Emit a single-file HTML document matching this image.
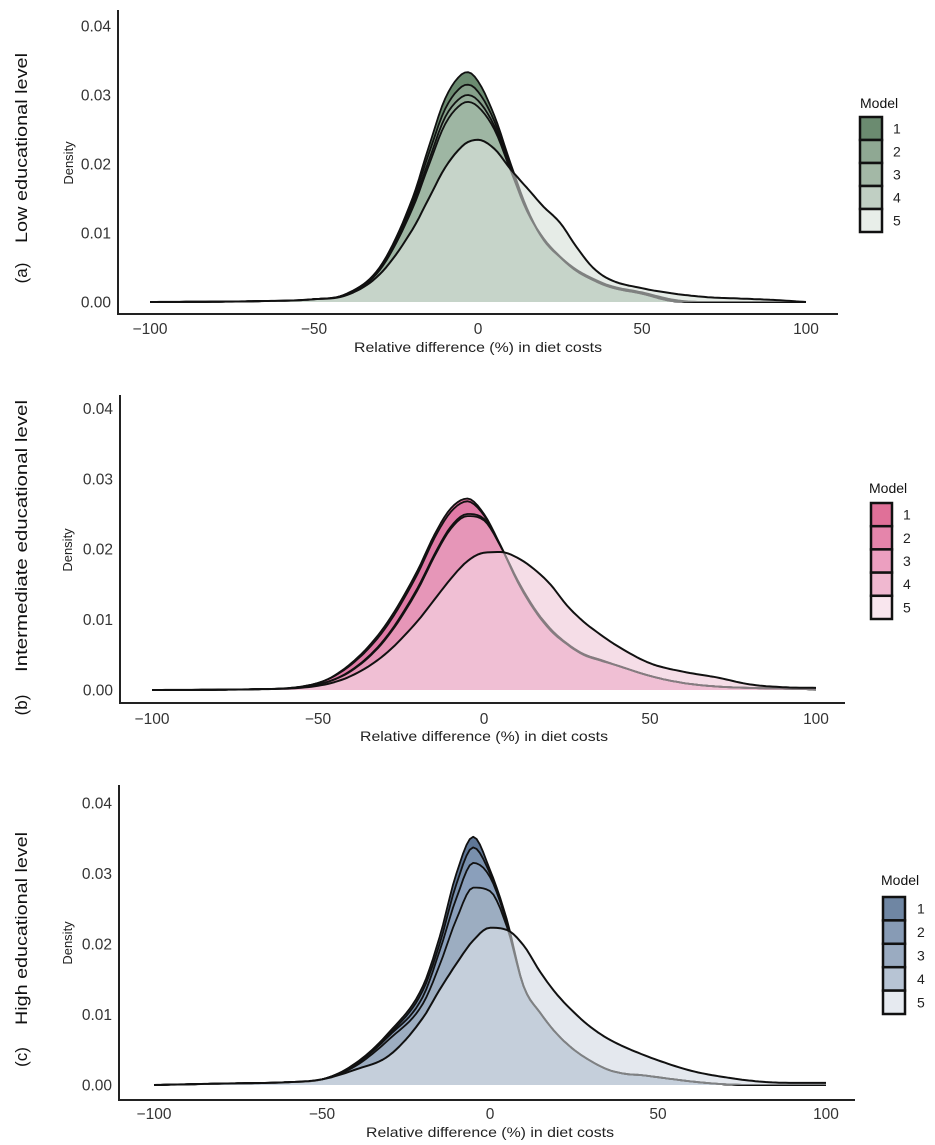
<!DOCTYPE html>
<html><head><meta charset="utf-8">
<style>
html,body{margin:0;padding:0;background:#fff;}
svg{display:block;font-family:"Liberation Sans",Arial,sans-serif;}
</style></head>
<body>
<svg id="chart" width="935" height="1145" viewBox="0 0 935 1145" xmlns="http://www.w3.org/2000/svg"></svg>
<script>
// ---------- data ----------
const xTicks = [-100, -50, 0, 50, 100];
const yTicks = [0, 0.01, 0.02, 0.03, 0.04];
const yTickLabels = ["0.00", "0.01", "0.02", "0.03", "0.04"];
const models = ["1", "2", "3", "4", "5"];

const gridA = [-100,-70,-50,-40,-30,-20,-15,-10,-5,-3,0,5,10,15,20,25,30,35,40,50,60,70,80,90,100];
const lowM1 = [0,0.0001,0.0004,0.0012,0.0050,0.0150,0.0225,0.0295,0.0330,0.0333,0.0320,0.0270,0.0200,0.0135,0.0090,0.0065,0.0045,0.0032,0.0022,0.0012,0.0001,0,0,0,0];
const lowM2 = [0,0.0001,0.0004,0.0012,0.0050,0.0145,0.0215,0.0280,0.0312,0.0315,0.0305,0.0262,0.0195,0.0133,0.0090,0.0065,0.0045,0.0032,0.0022,0.0012,0.0001,0,0,0,0];
const lowM3 = [0,0.0001,0.0004,0.0011,0.0048,0.0140,0.0205,0.0268,0.0297,0.0300,0.0292,0.0255,0.0192,0.0132,0.0092,0.0066,0.0046,0.0033,0.0023,0.0013,0.0002,0,0,0,0];
const lowM4 = [0,0.0001,0.0004,0.0011,0.0046,0.0135,0.0198,0.0258,0.0287,0.0290,0.0283,0.0250,0.0190,0.0131,0.0092,0.0066,0.0047,0.0034,0.0024,0.0014,0.0003,0,0,0,0];
const lowM5 = [0,0.0001,0.0004,0.0010,0.0040,0.0105,0.0150,0.0195,0.0225,0.0232,0.0235,0.0222,0.0192,0.0165,0.0138,0.0115,0.0080,0.0050,0.0033,0.0020,0.0012,0.0007,0.0005,0.0003,0];

const gridB = [-100,-70,-50,-40,-30,-20,-15,-10,-5,0,5,10,15,20,25,30,35,40,50,60,70,80,90,100];
const midM1 = [0,0.0001,0.0010,0.0038,0.0090,0.0170,0.0220,0.0258,0.0272,0.0250,0.0205,0.0155,0.0115,0.0085,0.0065,0.0050,0.0042,0.0035,0.0020,0.0010,0.0005,0.0003,0.0002,0.0001];
const midM2 = [0,0.0001,0.0010,0.0036,0.0086,0.0165,0.0215,0.0253,0.0268,0.0248,0.0205,0.0155,0.0115,0.0085,0.0065,0.0050,0.0042,0.0035,0.0020,0.0010,0.0005,0.0003,0.0002,0.0001];
const midM3 = [0,0.0001,0.0008,0.0028,0.0072,0.0145,0.0192,0.0232,0.0250,0.0243,0.0205,0.0157,0.0117,0.0087,0.0066,0.0051,0.0043,0.0035,0.0020,0.0010,0.0005,0.0003,0.0002,0.0001];
const midM4 = [0,0.0001,0.0008,0.0027,0.0070,0.0142,0.0189,0.0229,0.0247,0.0241,0.0204,0.0157,0.0117,0.0087,0.0066,0.0051,0.0043,0.0035,0.0020,0.0010,0.0005,0.0003,0.0002,0.0001];
const midM5 = [0,0.0001,0.0006,0.0020,0.0050,0.0098,0.0128,0.0158,0.0183,0.0195,0.0196,0.0188,0.0172,0.0150,0.0120,0.0097,0.0079,0.0063,0.0038,0.0026,0.0018,0.0008,0.0004,0.0003];

const gridC = [-100,-80,-60,-50,-40,-30,-20,-15,-10,-5,0,5,10,15,20,25,30,35,40,45,50,60,70,80,90,100];
const highM1 = [0,0.0002,0.0004,0.0008,0.0031,0.0075,0.0140,0.0210,0.0300,0.0352,0.0305,0.0235,0.0140,0.0102,0.0072,0.0050,0.0034,0.0022,0.0016,0.0014,0.0011,0.0005,0.0001,0,0,0];
const highM2 = [0,0.0002,0.0004,0.0008,0.0030,0.0072,0.0134,0.0200,0.0285,0.0337,0.0300,0.0232,0.0140,0.0102,0.0072,0.0050,0.0034,0.0022,0.0016,0.0014,0.0011,0.0005,0.0001,0,0,0];
const highM3 = [0,0.0002,0.0004,0.0008,0.0029,0.0070,0.0125,0.0190,0.0265,0.0315,0.0295,0.0230,0.0140,0.0102,0.0072,0.0050,0.0034,0.0022,0.0016,0.0014,0.0011,0.0005,0.0001,0,0,0];
const highM4 = [0,0.0002,0.0004,0.0008,0.0027,0.0065,0.0115,0.0170,0.0235,0.0280,0.0275,0.0225,0.0140,0.0102,0.0072,0.0050,0.0034,0.0022,0.0016,0.0014,0.0011,0.0005,0.0001,0,0,0];
const highM5 = [0,0.0002,0.0004,0.0008,0.0022,0.0042,0.0095,0.0135,0.0172,0.0205,0.0223,0.0220,0.0198,0.0160,0.0128,0.0103,0.0082,0.0066,0.0054,0.0044,0.0035,0.0020,0.0011,0.0005,0.0003,0.0003];

// ---------- rendering ----------
const NS = "http://www.w3.org/2000/svg";
const svg = document.getElementById("chart");
function el(tag, attrs, parent) {
  const e = document.createElementNS(NS, tag);
  for (const k in attrs) e.setAttribute(k, attrs[k]);
  (parent || svg).appendChild(e);
  return e;
}
function monotone(xs, ys) {
  const n = xs.length, d = [], m = [];
  for (let i = 0; i < n - 1; i++) d.push((ys[i+1]-ys[i])/(xs[i+1]-xs[i]));
  m[0] = d[0]; m[n-1] = d[n-2];
  for (let i = 1; i < n - 1; i++) m[i] = (d[i-1]*d[i] <= 0) ? 0 : (d[i-1]+d[i])/2;
  for (let i = 0; i < n - 1; i++) {
    if (d[i] === 0) { m[i] = 0; m[i+1] = 0; continue; }
    const a = m[i]/d[i], b = m[i+1]/d[i], s = a*a+b*b;
    if (s > 9) { const t = 3/Math.sqrt(s); m[i] = t*a*d[i]; m[i+1] = t*b*d[i]; }
  }
  return function(x) {
    let i = 0; while (i < n - 2 && x > xs[i+1]) i++;
    const h = xs[i+1]-xs[i], t = (x-xs[i])/h;
    const h00 = 2*t*t*t-3*t*t+1, h10 = t*t*t-2*t*t+t, h01 = -2*t*t*t+3*t*t, h11 = t*t*t-t*t;
    return Math.max(0, h00*ys[i]+h10*h*m[i]+h01*ys[i+1]+h11*h*m[i+1]);
  };
}

const panels = [
  { key:"low", grid:gridA, series:[lowM1,lowM2,lowM3,lowM4,lowM5], xZero:478, xScale:3.28, yZero:302, yScale:69,
    axisX:118, axisTop:10, axisBottom:314, axisRight:838, tickY:334, titleY:352, dens:[68,163],
    tag:"(a)", tagY:273, label:"Low educational level", labelTop:53, labelBottom:243,
    legend:{mx:860, my:103, kx:860, kw:22, ky:117, kb:232, nx:893},
    fills:["#6b8b70","#86a08a","#94ac98","#9eb6a3","#dee6df"], overlay:"#eef2ef",
    legendFills:["#6b8b70","#8fa893","#a3b8a6","#c0cfc3","#e8eee9"] },
  { key:"intermediate", grid:gridB, series:[midM1,midM2,midM3,midM4,midM5], xZero:484, xScale:3.32, yZero:690, yScale:70.4,
    axisX:120, axisTop:395, axisBottom:703, axisRight:845, tickY:724, titleY:741, dens:[67,550],
    tag:"(b)", tagY:705, label:"Intermediate educational level", labelTop:400, labelBottom:672,
    legend:{mx:869, my:488, kx:871, kw:21, ky:503, kb:619, nx:903},
    fills:["#dc6f9c","#e07aa6","#e585ae","#e696b8","#f0d2de"], overlay:"#fae8f0",
    legendFills:["#e07098","#e585ab","#ec9fc0","#f0b8d0","#f9e6ee"] },
  { key:"high", grid:gridC, series:[highM1,highM2,highM3,highM4,highM5], xZero:490, xScale:3.36, yZero:1085, yScale:70.5,
    axisX:119, axisTop:785, axisBottom:1100, axisRight:855, tickY:1119, titleY:1137, dens:[67,943],
    tag:"(c)", tagY:1057, label:"High educational level", labelTop:832, labelBottom:1025,
    legend:{mx:881, my:880, kx:883, kw:22, ky:897, kb:1014, nx:917},
    fills:["#5f7797","#7990ad","#8a9fbb","#9cadc1","#dadfe7"], overlay:"#eef1f5",
    legendFills:["#6f86a3","#879bb5","#9aabc1","#b7c4d4","#e6eaf0"] }
];

panels.forEach(p => {
  const g = el("g", {});
  
  
  const sx = v => p.xZero + v * p.xScale;
  const sy = d => p.yZero - d * 100 * p.yScale;

  function curvePts(vals) {
    const f = monotone(p.grid, vals);
    const pts = [];
    for (let x = -100; x <= 100; x += 1) pts.push([sx(x), sy(f(x))]);
    return pts;
  }
  function fillPath(vals) {
    const pts = curvePts(vals);
    return "M" + sx(-100) + "," + sy(0) + " L" + pts.map(q => q[0].toFixed(1)+","+q[1].toFixed(1)).join(" L") + " L" + sx(100) + "," + sy(0) + " Z";
  }
  function linePath(vals) {
    const pts = curvePts(vals);
    return "M" + pts.map(q => q[0].toFixed(1)+","+q[1].toFixed(1)).join(" L");
  }
  const order = [4, 0, 1, 2, 3];
  order.forEach(i => {
    const a = el("path", { d: fillPath(p.series[i]), fill: p.fills[i], stroke: "none" }, g);
    
    
  });
  [0,1,2,3].forEach(i => {
    const l = el("path", { d: linePath(p.series[i]), fill: "none", stroke: "#111", "stroke-width": 1.8, "stroke-linejoin": "round" }, g);
    
    
  });
  const ov = el("path", { d: fillPath(p.series[4]), fill: p.overlay, "fill-opacity": 0.5, stroke: "none" }, g);
  
  
  const l5 = el("path", { d: linePath(p.series[4]), fill: "none", stroke: "#111", "stroke-width": 2, "stroke-linejoin": "round" }, g);
  
  

  const ya = el("line", { x1: p.axisX, y1: p.axisTop, x2: p.axisX, y2: p.axisBottom + 1, stroke: "#222", "stroke-width": 2 }, g);
  
  
  const xa = el("line", { x1: p.axisX - 1, y1: p.axisBottom, x2: p.axisRight, y2: p.axisBottom, stroke: "#222", "stroke-width": 2 }, g);
  
  

  yTicks.forEach((t, i) => {
    const tx = el("text", { x: p.axisX - 7, y: sy(t) + 5.5, "text-anchor": "end", "font-size": 15.5, fill: "#333" }, g);
    tx.textContent = yTickLabels[i];
    
    
  });
  xTicks.forEach(t => {
    const tx = el("text", { x: sx(t), y: p.tickY, "text-anchor": "middle", "font-size": 15.5, fill: "#333" }, g);
    tx.textContent = (t < 0 ? "\u2212" + Math.abs(t) : String(t));
    
    
  });
  const xt = el("text", { x: sx(0), y: p.titleY, "text-anchor": "middle", "font-size": 14, fill: "#222", textLength: 248, lengthAdjust: "spacingAndGlyphs" }, g);
  xt.textContent = "Relative difference (%) in diet costs";
  
  
  const dt = el("text", { x: 0, y: 0, transform: "translate(" + (p.dens[0] + 5) + "," + p.dens[1] + ") rotate(-90)", "text-anchor": "middle", "font-size": 13, fill: "#222" }, g);
  dt.textContent = "Density";
  
  

  const tg = el("text", { x: 0, y: 0, transform: "translate(27," + p.tagY + ") rotate(-90)", "text-anchor": "middle", "font-size": 17, fill: "#111" }, g);
  tg.textContent = p.tag;
  
  
  const lc = (p.labelTop + p.labelBottom) / 2;
  const lt = el("text", { x: 0, y: 0, transform: "translate(27," + lc + ") rotate(-90)", "text-anchor": "middle", "font-size": 17, fill: "#111", textLength: (p.labelBottom - p.labelTop), lengthAdjust: "spacingAndGlyphs" }, g);
  lt.textContent = p.label;
  
  

  const L = p.legend;
  const lg = el("g", {}, g);
  
  
  const mt = el("text", { x: L.mx, y: L.my + 5, "font-size": 14, fill: "#111" }, lg);
  mt.textContent = "Model";
  
  
  const kh = (L.kb - L.ky) / 5;
  models.forEach((m, i) => {
    const r = el("rect", { x: L.kx, y: L.ky + i * kh, width: L.kw, height: kh, fill: p.legendFills[i], stroke: "#111", "stroke-width": 2.5 }, lg);
    
    
    const nt = el("text", { x: L.nx, y: L.ky + i * kh + kh / 2 + 5, "font-size": 14, fill: "#222" }, lg);
    nt.textContent = m;
    
    
  });
});
</script>
</body></html>
